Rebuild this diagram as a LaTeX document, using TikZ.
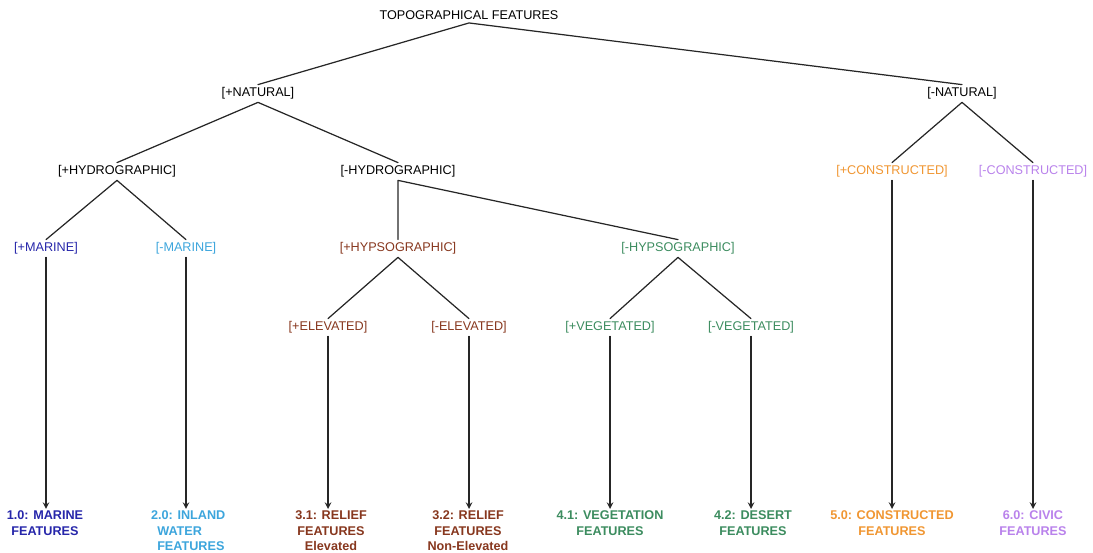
\documentclass[tikz,border=0pt]{standalone}
\usepackage{fontspec}
\setmainfont{Liberation Sans}
\definecolor{marine}{RGB}{38,38,170}
\definecolor{inland}{RGB}{60,165,220}
\definecolor{relief}{RGB}{135,55,30}
\definecolor{veget}{RGB}{60,140,95}
\definecolor{constr}{RGB}{240,150,50}
\definecolor{civic}{RGB}{185,130,235}
\begin{document}
\begin{tikzpicture}[x=0.02cm,y=-0.02cm,>=stealth, font=\fontsize{7.2}{8.6}\selectfont, line join=round, line cap=round,
  feat/.style={inner sep=1.5pt},
  leaf/.style={font=\fontsize{7.2}{8.6}\selectfont\bfseries, align=center, anchor=north, inner sep=1pt},
  link/.style={line width=0.7pt, black!85}]
\useasboundingbox (0,0) rectangle (1093,553);
\def\ya{15.5} \def\yb{93.5} \def\yc{171.5} \def\yd{248.5} \def\ye{327.5} \def\yf{509} % rows
% features
\node[feat] (topo) at (469,\ya) {TOPOGRAPHICAL FEATURES};
\node[feat] (nat) at (258,\yb) {[+NATURAL]};
\node[feat] (nnat) at (962,\yb) {[-NATURAL]};
\node[feat] (hyd) at (117,\yc) {[+HYDROGRAPHIC]};
\node[feat] (nhyd) at (398,\yc) {[-HYDROGRAPHIC]};
\node[feat,constr] (con) at (892,\yc) {[+CONSTRUCTED]};
\node[feat,civic] (ncon) at (1033,\yc) {[-CONSTRUCTED]};
\node[feat,marine] (mar) at (46,\yd) {[+MARINE]};
\node[feat,inland] (nmar) at (186,\yd) {[-MARINE]};
\node[feat,relief] (hyp) at (398,\yd) {[+HYPSOGRAPHIC]};
\node[feat,veget] (nhyp) at (678,\yd) {[-HYPSOGRAPHIC]};
\node[feat,relief] (ele) at (328,\ye) {[+ELEVATED]};
\node[feat,relief] (nele) at (469,\ye) {[-ELEVATED]};
\node[feat,veget] (veg) at (610,\ye) {[+VEGETATED]};
\node[feat,veget] (nveg) at (751,\ye) {[-VEGETATED]};
% classes
\node[leaf,marine] (c10) at (45,\yf) {1.0: MARINE\\FEATURES};
\node[leaf,inland,align=left,anchor=north west] (c20) at (149,\yf) {2.0: INLAND\\\hspace*{3.5pt}WATER\\\hspace*{3.5pt}FEATURES};
\node[leaf,relief] (c31) at (331,\yf) {3.1: RELIEF\\FEATURES\\Elevated};
\node[leaf,relief] (c32) at (468,\yf) {3.2: RELIEF\\FEATURES\\Non-Elevated};
\node[leaf,veget] (c41) at (610,\yf) {4.1: VEGETATION\\FEATURES};
\node[leaf,veget] (c42) at (753,\yf) {4.2: DESERT\\FEATURES};
\node[leaf,constr] (c50) at (892,\yf) {5.0: CONSTRUCTED\\FEATURES};
\node[leaf,civic] (c60) at (1033,\yf) {6.0: CIVIC\\FEATURES};
% tree
\draw[link] (nat.north)--(topo.south)--(nnat.north);
\draw[link] (hyd.north)--(nat.south)--(nhyd.north);
\draw[link] (con.north)--(nnat.south)--(ncon.north);
\draw[link] (mar.north)--(hyd.south)--(nmar.north);
\draw[link] (hyp.north)--(nhyd.south)--(nhyp.north);
\draw[link] (ele.north)--(hyp.south)--(nele.north);
\draw[link] (veg.north)--(nhyp.south)--(nveg.north);
\foreach \a/\b in {mar/c10,nmar/c20,ele/c31,nele/c32,veg/c41,nveg/c42,con/c50,ncon/c60}
  \draw[link,->] (\a.south)--(\a.south |- \b.north);
\end{tikzpicture}
\end{document}
